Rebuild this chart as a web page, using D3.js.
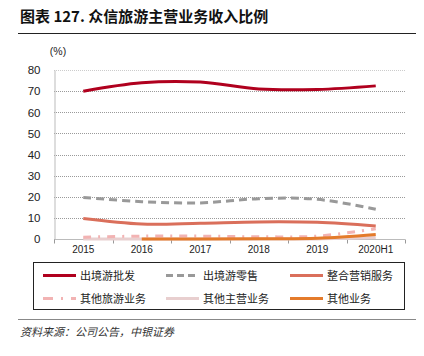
<!DOCTYPE html>
<html><head><meta charset="utf-8">
<script src="https://cdn.jsdelivr.net/npm/d3@7"></script>
<style>
html,body{margin:0;padding:0;background:#fff;}
svg{display:block;}
</style></head>
<body>
<svg id="c" width="424" height="356"></svg>
<script>
const categories = ["2015","2016","2017","2018","2019","2020H1"];
const yTicks = [0,10,20,30,40,50,60,70,80];
const seriesNames = ["出境游批发","出境游零售","整合营销服务","其他旅游业务","其他主营业务","其他业务"];
const wholesale = [70, 74, 74.3, 71, 70.8, 72.5];
const retail = [19.8, 17.8, 17.2, 19.2, 18.9, 14.2];
const marketing = [9.8, 7.2, 7.6, 8.2, 8, 6.3];
const otherTravel = [1, 1.5, 1.5, 1.2, 1.5, 5];
const otherMain = [0.2, 0.2, 0.2, 0.2, 0.2, 0.8];
const otherBiz = [null, 0.2, 0.2, 0.3, 0.5, 2.3];

const series = [
  {name: seriesNames[0], values: wholesale, color: "#B0001E", width: 3, dash: null},
  {name: seriesNames[1], values: retail, color: "#999999", width: 3, dash: "8,5"},
  {name: seriesNames[2], values: marketing, color: "#DA6F5B", width: 3, dash: null},
  {name: seriesNames[3], values: otherTravel, color: "#F2B3B3", width: 3, dash: "8,7,2,7"},
  {name: seriesNames[4], values: otherMain, color: "#E8CFCF", width: 3, dash: null},
  {name: seriesNames[5], values: otherBiz, color: "#E47B2B", width: 3, dash: null}
];

const svg = d3.select("#c");
const cjk = "'Noto Sans CJK SC', sans-serif";
const latin = "'Liberation Sans', Arial, sans-serif";

// title
svg.append("text").attr("x", 20).attr("y", 22)
  .attr("font-family", cjk).attr("font-weight", "bold").attr("font-size", 15)
  .attr("fill", "#111").text("图表 127. 众信旅游主营业务收入比例");
svg.append("line").attr("x1", 18).attr("x2", 416).attr("y1", 33.5).attr("y2", 33.5)
  .attr("stroke", "#222").attr("stroke-width", 1);

const pLeft = 54, pRight = 405, pTop = 70, pBottom = 239.3;
const x = d3.scaleBand().domain(categories).range([pLeft, pRight]);
const y = d3.scaleLinear().domain([0, 80]).range([pBottom, pTop]);

// unit
svg.append("text").attr("x", 58).attr("y", 55).attr("text-anchor", "middle")
  .attr("font-family", latin).attr("font-size", 10.5).attr("fill", "#222").text("(%)");

// grid
svg.append("g").selectAll("line").data(yTicks.filter(d => d > 0)).join("line")
  .attr("x1", pLeft).attr("x2", pRight)
  .attr("y1", d => Math.round(y(d)) + 0.5).attr("y2", d => Math.round(y(d)) + 0.5)
  .attr("stroke", d => d === 80 ? "#cccccc" : "#9a9a9a").attr("stroke-width", 1)
  .attr("stroke-dasharray", "1,1");

// y axis
const yAxis = d3.axisLeft(y).tickValues(yTicks).tickSize(0).tickPadding(14);
const gy = svg.append("g").attr("transform", `translate(${pLeft + 0.5},0)`).call(yAxis);
gy.select(".domain").attr("stroke", "#bbbbbb");
gy.selectAll("text").attr("font-family", latin).attr("font-size", 11.5).attr("fill", "#222");

// x axis
const gx = svg.append("g").attr("transform", `translate(0,${Math.round(pBottom) + 0.5})`);
gx.append("line").attr("x1", pLeft).attr("x2", pRight).attr("stroke", "#bbbbbb");
const bounds = categories.map(c => x(c)).concat([pRight]);
gx.selectAll("line.tk").data(bounds).join("line").attr("class", "tk")
  .attr("x1", d => Math.round(d) + 0.5).attr("x2", d => Math.round(d) + 0.5)
  .attr("y1", 0).attr("y2", 4).attr("stroke", "#999");
gx.selectAll("text").data(categories).join("text")
  .attr("x", d => x(d) + x.bandwidth() / 2).attr("y", 13).attr("text-anchor", "middle")
  .attr("font-family", latin).attr("font-size", 10).attr("fill", "#222").text(d => d);

// lines
const line = d3.line()
  .x(d => x(d.c) + x.bandwidth() / 2).y(d => y(d.v))
  .curve(d3.curveCatmullRom.alpha(0.5));
const drawOrder = [4, 3, 5, 2, 1, 0];
drawOrder.forEach(i => {
  const s = series[i];
  const pts = categories.map((c, k) => ({c, v: s.values[k]})).filter(p => p.v !== null);
  svg.append("path").datum(pts)
    .attr("d", line).attr("fill", "none")
    .attr("stroke", s.color).attr("stroke-width", s.width)
    .attr("stroke-dasharray", s.dash).attr("stroke-linecap", "butt");
});

// legend
svg.append("rect").attr("x", 33.5).attr("y", 262.5).attr("width", 371).attr("height", 47)
  .attr("fill", "none").attr("stroke", "#222").attr("stroke-width", 1);
const legPos = [[43, 275.5], [166, 275.5], [290, 275.5], [43, 298.5], [166, 298.5], [290, 298.5]];
series.forEach((s, i) => {
  const [lx, ly] = legPos[i];
  svg.append("line").attr("x1", lx).attr("x2", lx + 33).attr("y1", ly).attr("y2", ly)
    .attr("stroke", s.color).attr("stroke-width", 3)
    .attr("stroke-dasharray", s.dash === "8,5" ? "7,4" : (s.dash ? "10,8,2,8" : null));
  svg.append("text").attr("x", lx + 37).attr("y", ly + 4)
    .attr("font-family", cjk).attr("font-size", 11).attr("fill", "#222").text(s.name);
});

// source
svg.append("line").attr("x1", 18).attr("x2", 416).attr("y1", 319.5).attr("y2", 319.5)
  .attr("stroke", "#888").attr("stroke-width", 1.2);
svg.append("text").attr("x", 20).attr("y", 336)
  .attr("font-family", cjk).attr("font-size", 11).attr("font-style", "italic")
  .attr("fill", "#333").text("资料来源：公司公告，中银证券");
</script>
</body></html>
